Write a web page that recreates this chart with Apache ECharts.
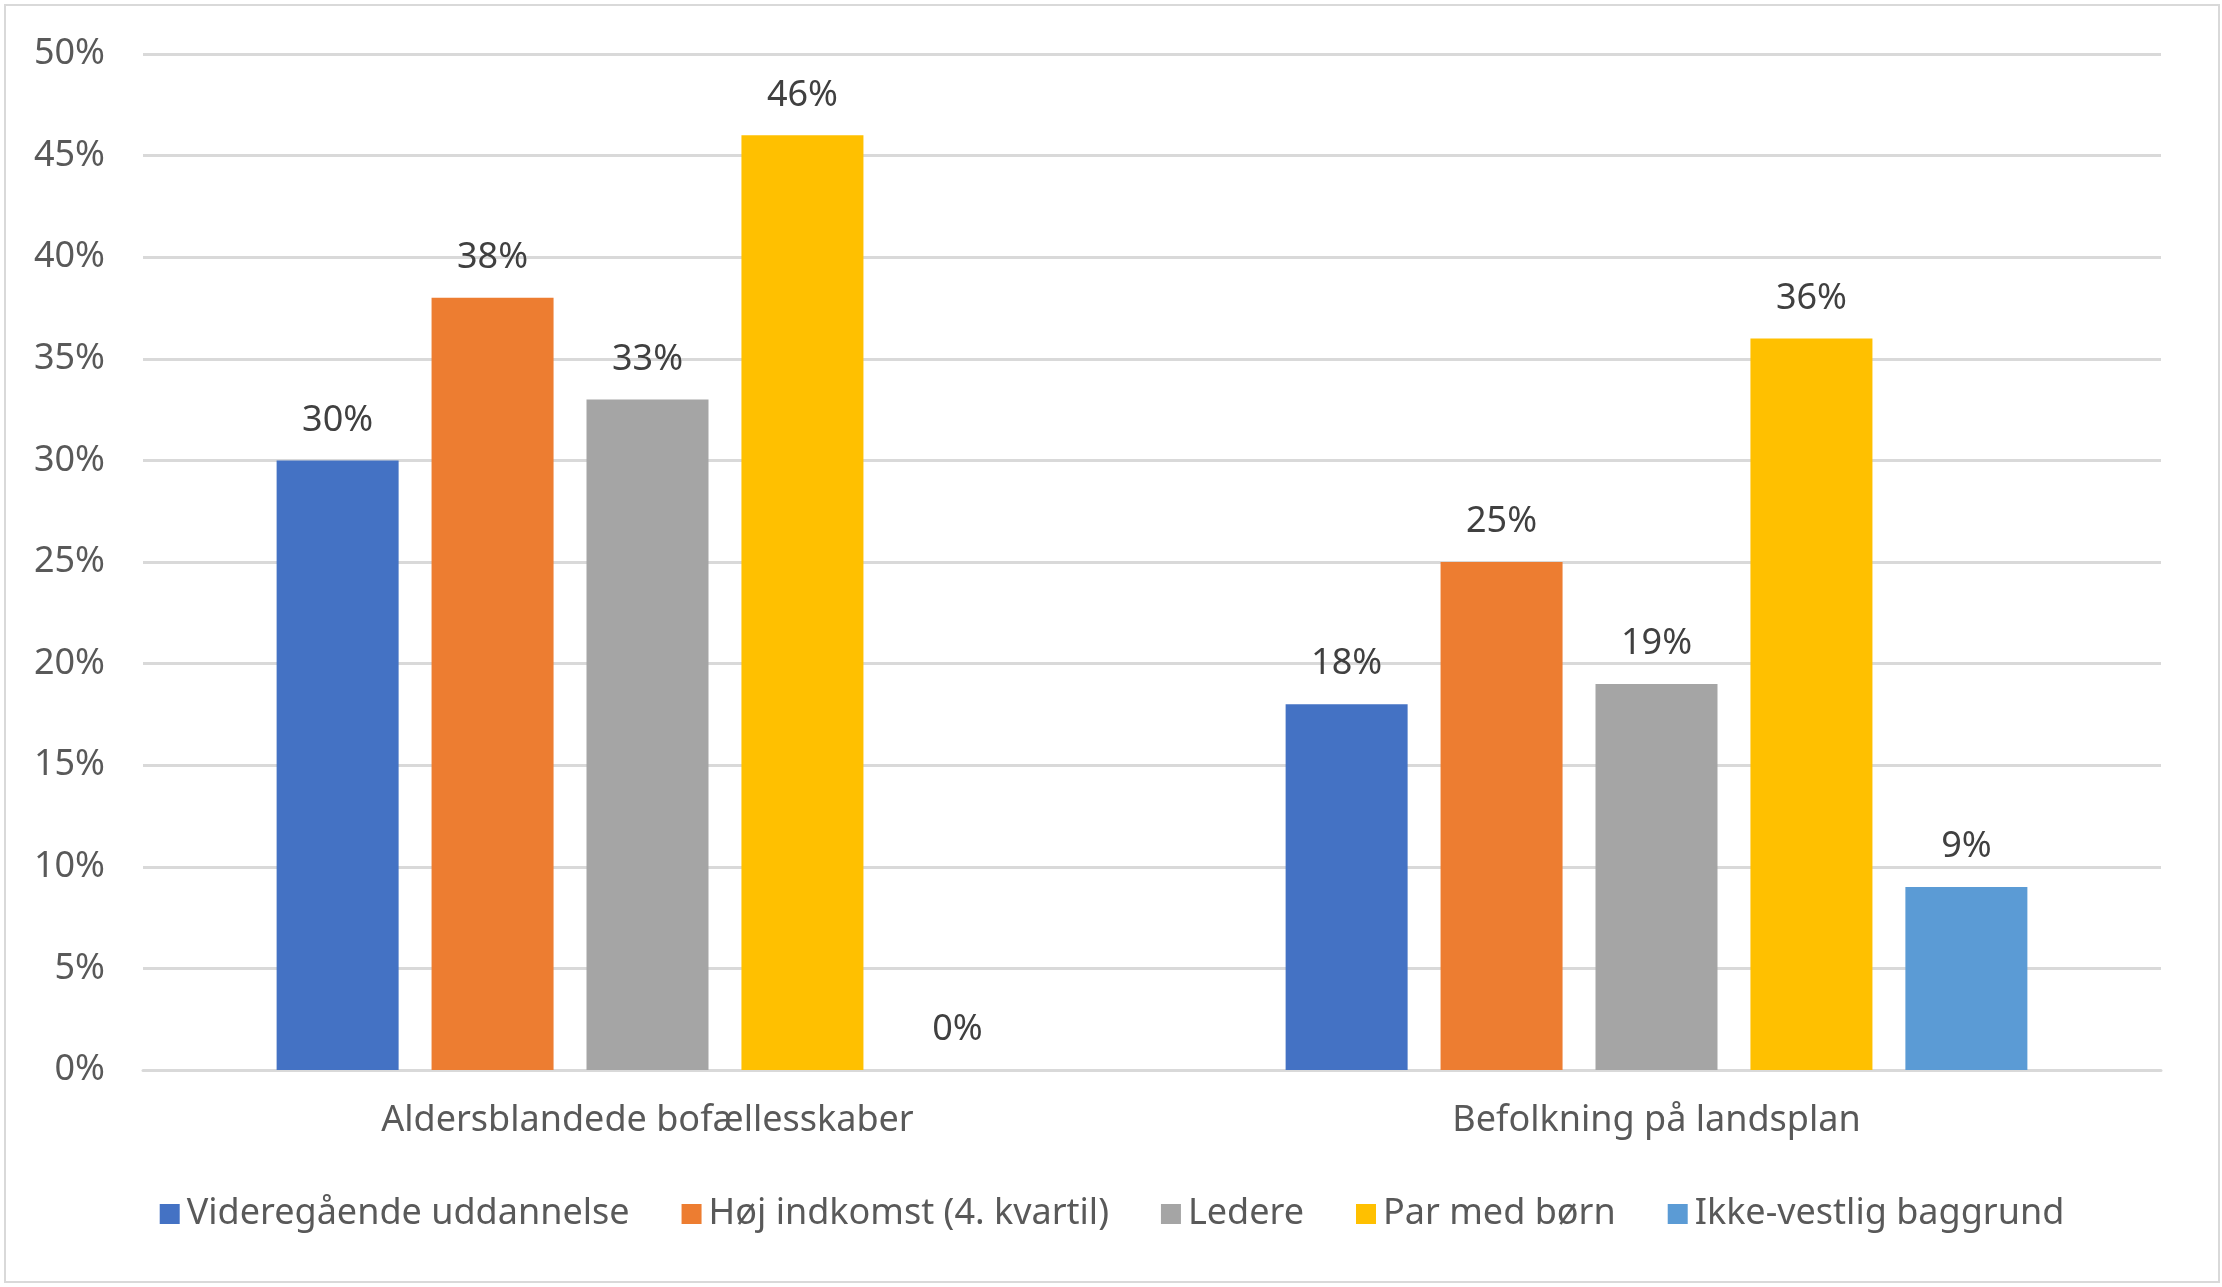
<html lang="da">
<head>
    <meta charset="UTF-8">
    <title>Bofællesskaber</title>
    <style>
        html, body { margin: 0; padding: 0; background: #fff; }
        #chart {
            position: absolute;
            left: 4px; top: 4px;
            width: 2212px; height: 1275px;
            border: 2px solid #D9D9D9;
        }
    </style>
</head>
<body>
    <div id="chart"></div>
    <script src="https://cdn.jsdelivr.net/npm/echarts@6/dist/echarts.min.js"></script>
    <script>
        // data
        const categories = ['Aldersblandede bofællesskaber', 'Befolkning på landsplan']
        const seriesNames = ['Videregående uddannelse', 'Høj indkomst (4. kvartil)', 'Ledere', 'Par med børn', 'Ikke-vestlig baggrund']
        const videregaaende = [30, 18]
        const hoejIndkomst = [38, 25]
        const ledere = [33, 19]
        const parMedBoern = [46, 36]
        const ikkeVestlig = [0, 9]
        const colors = ['#4472C4', '#ED7D31', '#A5A5A5', '#FFC000', '#5B9BD5']

        const values = [videregaaende, hoejIndkomst, ledere, parMedBoern, ikkeVestlig]
        const font = 'Noto Sans'

        const chart = echarts.init(document.getElementById('chart'))

        chart.setOption({
            animation: false,
            color: colors,
            grid: { left: 137, right: 57, top: 48, bottom: 211 },
            legend: {
                bottom: 44,
                left: 'center',
                icon: 'rect',
                itemWidth: 20,
                itemHeight: 20,
                itemGap: 52,
                textStyle: { fontFamily: font, fontSize: 36, color: '#595959', padding: [0, 0, 0, 2] },
                data: seriesNames
            },
            xAxis: {
                type: 'category',
                data: categories,
                axisLine: { lineStyle: { color: '#D9D9D9', width: 3 } },
                axisTick: { show: false },
                axisLabel: { fontFamily: font, fontSize: 36, color: '#595959', margin: 33 }
            },
            yAxis: {
                type: 'value',
                min: 0,
                max: 50,
                interval: 5,
                axisLine: { show: false },
                axisTick: { show: false },
                splitLine: { lineStyle: { color: '#D9D9D9', width: 3 } },
                axisLabel: {
                    fontFamily: font, fontSize: 36, color: '#595959', margin: 38,
                    formatter: v => v + '%'
                }
            },
            series: seriesNames.map((name, i) => ({
                name: name,
                type: 'bar',
                data: values[i],
                barWidth: 122,
                barGap: '27%',
                label: {
                    show: true,
                    position: 'top',
                    distance: 22,
                    fontFamily: font,
                    fontSize: 36,
                    color: '#404040',
                    formatter: p => p.value + '%'
                }
            }))
        })
    </script>
</body>
</html>
